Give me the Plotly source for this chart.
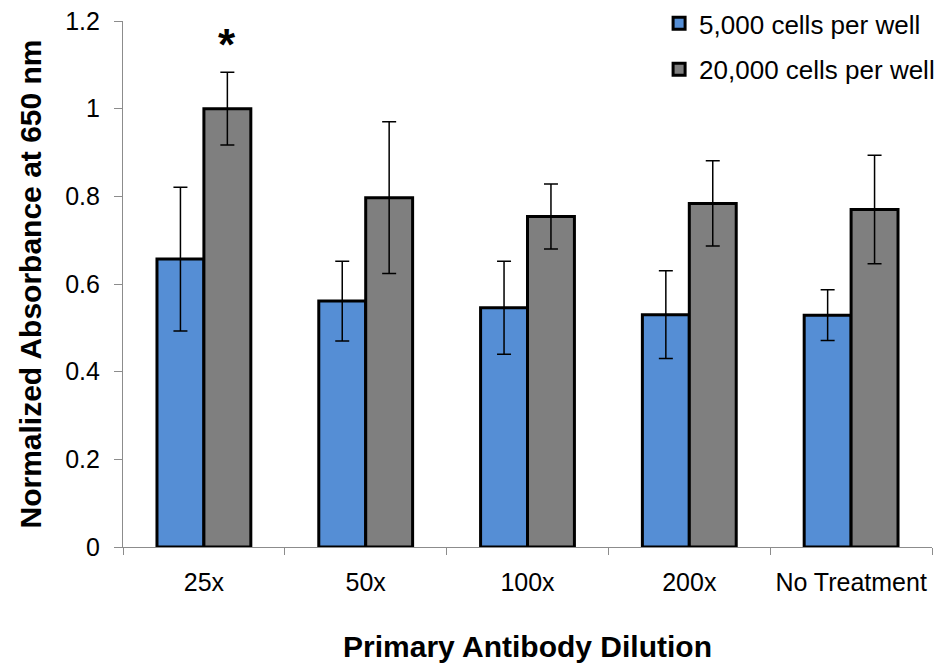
import plotly.graph_objects as go

categories = ["25x", "50x", "100x", "200x", "No Treatment"]
low_density = [0.657, 0.561, 0.546, 0.530, 0.529]
low_density_err = [0.164, 0.091, 0.106, 0.100, 0.058]
high_density = [1.000, 0.797, 0.754, 0.784, 0.770]
high_density_err = [0.083, 0.173, 0.074, 0.097, 0.124]
series_names = ["5,000 cells per well", "20,000 cells per well"]
y_ticks = [0, 0.2, 0.4, 0.6, 0.8, 1.0, 1.2]
y_tick_labels = ["0", "0.2", "0.4", "0.6", "0.8", "1", "1.2"]

FONT = "Liberation Sans, Arial, sans-serif"

fig = go.Figure()
fig.add_trace(go.Bar(
    x=categories, y=low_density, name=series_names[0], legendgroup="a",
    marker=dict(color="#558ED5", line=dict(color="black", width=3)),
    error_y=dict(type="data", array=low_density_err, color="black", thickness=1.5, width=7),
))
fig.add_trace(go.Bar(
    x=categories, y=high_density, name=series_names[1], legendgroup="b",
    marker=dict(color="#7F7F7F", line=dict(color="black", width=3)),
    error_y=dict(type="data", array=high_density_err, color="black", thickness=1.5, width=7),
))

fig.add_annotation(x=categories[0], y=1.146, text="<b>*</b>", showarrow=False,
                   xshift=23, yanchor="middle", font=dict(size=44, color="black", family=FONT))

fig.update_layout(
    width=945, height=663,
    margin=dict(l=115, r=21, t=13, b=124, autoexpand=False),
    paper_bgcolor="white", plot_bgcolor="white",
    font=dict(family=FONT, color="black", size=25),
    barmode="group", bargap=0.42, bargroupgap=0,
    showlegend=True,
    legend=dict(x=1.01, y=1.04, xanchor="right", yanchor="top", traceorder="grouped",
                tracegroupgap=9, font=dict(size=26, family=FONT), bgcolor="rgba(0,0,0,0)"),
    xaxis=dict(
        title=dict(text="<b>Primary Antibody Dilution</b>", font=dict(size=30, family=FONT), standoff=40),
        showline=True, linecolor="#8c8c8c", linewidth=1.2, automargin=False,
        ticks="outside", tickson="boundaries", ticklen=7, tickcolor="#8c8c8c", ticklabelstandoff=13,
        tickfont=dict(size=25, family=FONT), showgrid=False, ticklabeloverflow="allow",
    ),
    yaxis=dict(
        title=dict(text="<b>Normalized Absorbance at 650 nm</b>", font=dict(size=30, family=FONT), standoff=14),
        range=[0, 1.2001], tickvals=y_ticks, ticktext=y_tick_labels, automargin=False,
        showline=True, linecolor="#8c8c8c", linewidth=1.2,
        ticks="outside", ticklen=8, tickcolor="#8c8c8c", ticklabelstandoff=9,
        tickfont=dict(size=25, family=FONT), showgrid=False, zeroline=False,
        ticklabeloverflow="allow",
    ),
)

fig.write_html("out.html")
